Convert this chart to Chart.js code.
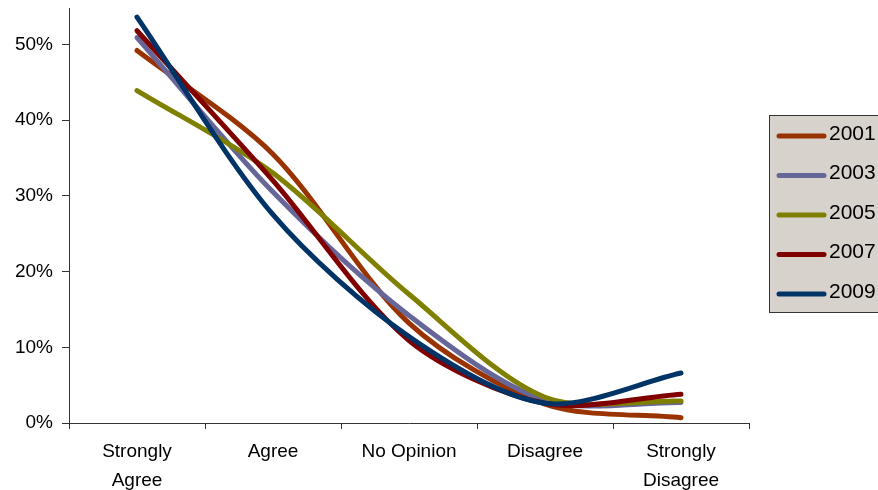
<!DOCTYPE html>
<html><head><meta charset="utf-8">
<script src="https://cdn.jsdelivr.net/npm/chart.js@4.4.1/dist/chart.umd.min.js"></script>
<style>html,body{margin:0;padding:0;background:#fff;overflow:hidden}#wrap{width:878px;height:490px;position:relative}</style>
</head><body><div id="wrap"><canvas id="c" width="878" height="490"></canvas></div>
<script>
const categories = [["Strongly","Agree"], "Agree", "No Opinion", "Disagree", ["Strongly","Disagree"]];
const seriesNames = ["2001", "2003", "2005", "2007", "2009"];
const s2001 = [49.2, 35.5, 13.2, 2.5, 0.7];
const s2003 = [50.9, 30.5, 14.2, 3.0, 2.7];
const s2005 = [43.9, 33.0, 17.0, 3.4, 2.9];
const s2007 = [51.8, 32.0, 10.9, 2.6, 3.8];
const s2009 = [53.6, 27.5, 11.4, 2.6, 6.6];
const yTickValues = [0, 10, 20, 30, 40, 50];
const colors = ["#993300", "#666699", "#808000", "#800000", "#003366"];

const FONT = '"Liberation Sans", Arial, sans-serif';
const allSeries = [s2001, s2003, s2005, s2007, s2009];

const legendPlugin = {
  id: 'boxLegend',
  afterDraw(chart) {
    const ctx = chart.ctx;
    ctx.save();
    ctx.fillStyle = '#d8d2cc';
    ctx.strokeStyle = '#333333';
    ctx.lineWidth = 1;
    ctx.fillRect(769.5, 115.5, 140, 197);
    ctx.strokeRect(769.5, 115.5, 140, 197);
    chart.data.datasets.forEach((ds, i) => {
      const y = 136 + i * 39.5;
      ctx.strokeStyle = ds.borderColor;
      ctx.lineWidth = 5;
      ctx.lineCap = 'round';
      ctx.beginPath();
      ctx.moveTo(779, y);
      ctx.lineTo(824, y);
      ctx.stroke();
      ctx.fillStyle = '#000';
      ctx.font = '21px ' + FONT;
      ctx.textBaseline = 'middle';
      ctx.textAlign = 'left';
      ctx.fillText(ds.label, 829, y - 2);
    });
    ctx.restore();
  }
};

new Chart(document.getElementById('c'), {
  type: 'line',
  data: {
    labels: categories,
    datasets: seriesNames.map((name, i) => ({
      label: name,
      data: allSeries[i],
      borderColor: colors[i],
      backgroundColor: colors[i],
      borderWidth: 5,
      borderCapStyle: 'round',
      borderJoinStyle: 'round',
      pointRadius: 0,
      tension: 0.3,
      fill: false,
      order: 5 - i
    }))
  },
  options: {
    responsive: false,
    animation: false,
    devicePixelRatio: 1,
    layout: { padding: { top: 8, right: 129, left: 0, bottom: 0 } },
    plugins: { legend: { display: false }, tooltip: { enabled: false } },
    scales: {
      x: {
        offset: true,
        grid: { offset: true, drawOnChartArea: false, drawTicks: true, tickLength: 6, color: '#333' },
        border: { display: true, color: '#333', width: 1 },
        ticks: { color: '#000', font: { family: FONT, size: 19, lineHeight: 1.5 }, padding: 9, maxRotation: 0, autoSkip: false },
        afterFit(scale) { scale.height = 67; scale.paddingLeft = 0; scale.paddingRight = 0; }
      },
      y: {
        min: 0,
        max: 54.8,
        grid: { drawOnChartArea: false, drawTicks: true, tickLength: 7, color: '#333' },
        border: { display: true, color: '#333', width: 1 },
        ticks: { color: '#000', font: { family: FONT, size: 19 }, padding: 9, callback: v => v + '%' },
        afterBuildTicks(scale) { scale.ticks = yTickValues.map(v => ({ value: v })); },
        afterFit(scale) { scale.width = 69; scale.paddingTop = 0; scale.paddingBottom = 0; }
      }
    }
  },
  plugins: [legendPlugin]
});
</script>
</body></html>
